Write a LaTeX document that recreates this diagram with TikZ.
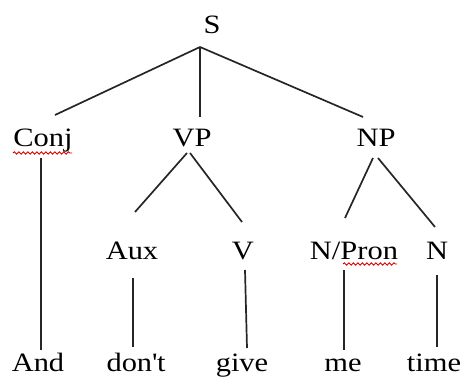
\documentclass[tikz,border=0pt]{standalone}
\usepackage{fontspec}
\setmainfont{Liberation Serif}[FakeStretch=1.15]
\usetikzlibrary{decorations.pathmorphing}
\tikzset{
  lbl/.style={anchor=base, inner sep=0pt, font=\fontsize{26.5}{30}\selectfont},
  edge/.style={line width=1.7pt, draw=black!85},
  spell/.style={draw=red!85!black, line width=0.9pt, decorate,
    decoration={snake, segment length=4.5pt, amplitude=1.2pt}}
}
\begin{document}
\begin{tikzpicture}[x=1pt,y=1pt]
\useasboundingbox (0,0) rectangle (466,377);
% nodes
\node[lbl] (S) at (212,343) {S};
\node[lbl] (Conj) at (43,230) {Conj};
\node[lbl] (VP) at (192,230) {VP};
\node[lbl] (NP) at (376,230) {NP};
\node[lbl] (Aux) at (132,117) {Aux};
\node[lbl] (V) at (243,117) {V};
\node[lbl] (NPron) at (354,117) {N/Pron};
\node[lbl] (N) at (437,117) {N};
\node[lbl] (And) at (38,5) {And};
\node[lbl] (dont) at (136,5) {don\textquotesingle t};
\node[lbl] (give) at (242,5) {give};
\node[lbl] (me) at (343,5) {me};
\node[lbl] (time) at (434,5) {time};
% connectors
\draw[edge] ([shift={(-12,-13)}]S.base) -- ([shift={(12,32)}]Conj.base);
\draw[edge] ([shift={(-12,-13)}]S.base) -- ([shift={(8,30)}]VP.base);
\draw[edge] ([shift={(-12,-13)}]S.base) -- ([shift={(-13,30)}]NP.base);
\draw[edge] ([shift={(-5,-6)}]VP.base) -- ([shift={(3,48)}]Aux.base);
\draw[edge] ([shift={(-2,-6)}]VP.base) -- ([shift={(-1,38)}]V.base);
\draw[edge] ([shift={(-3,-11)}]NP.base) -- ([shift={(-9,42)}]NPron.base);
\draw[edge] ([shift={(2,-11)}]NP.base) -- ([shift={(-2,33)}]N.base);
\draw[edge] ([shift={(-2,-11)}]Conj.base) -- ([shift={(3,22)}]And.base);
\draw[edge] ([shift={(1,-18)}]Aux.base) -- ([shift={(-3,25)}]dont.base);
\draw[edge] ([shift={(2,-10)}]V.base) -- ([shift={(5,24)}]give.base);
\draw[edge] ([shift={(-10,-10)}]NPron.base) -- ([shift={(1,22)}]me.base);
\draw[edge] ([shift={(0,-15)}]N.base) -- ([shift={(3,25)}]time.base);
% spell-check underlines
\draw[spell] ([shift={(-30,-6)}]Conj.base) -- ([shift={(29,-6)}]Conj.base);
\draw[spell] ([shift={(-11,-4)}]NPron.base) -- ([shift={(43,-4)}]NPron.base);
\end{tikzpicture}
\end{document}
